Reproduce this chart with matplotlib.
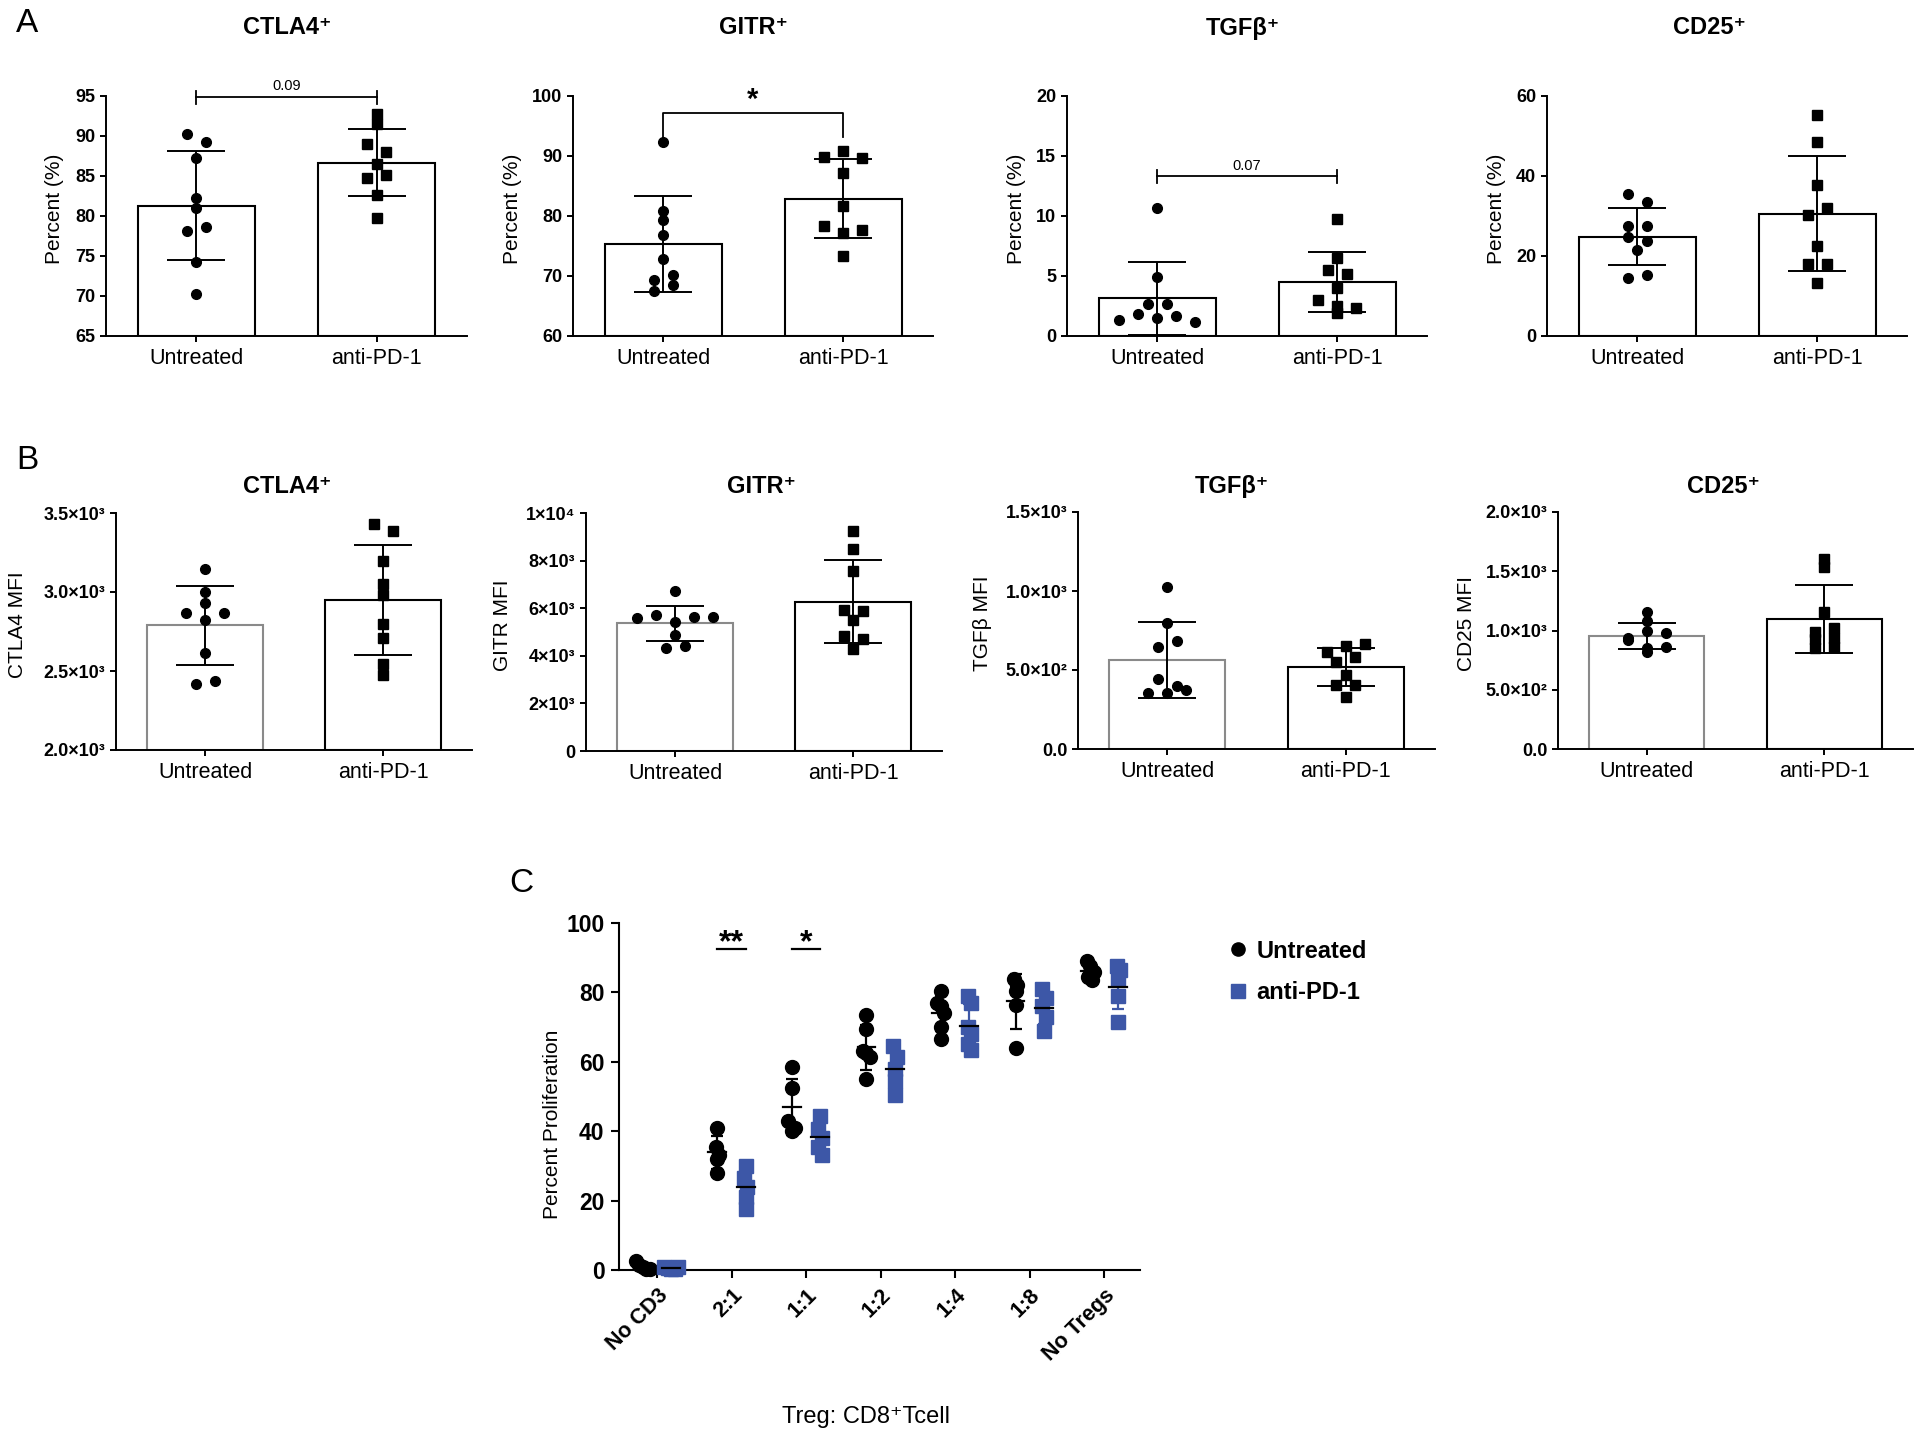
import numpy as np
import matplotlib
matplotlib.use('Agg')
import matplotlib.pyplot as plt
from matplotlib.lines import Line2D

plt.rcParams['font.family'] = ['Liberation Sans', 'DejaVu Sans']

W, H = 1920, 1441
BLUE = '#3D57A7'

groups = ['Untreated', 'anti-PD-1']

# ---- panel A: percent positive Tregs
a_titles = ['CTLA4⁺', 'GITR⁺', 'TGFβ⁺', 'CD25⁺']
a_ctla4_untr = [90.3, 89.3, 87.3, 82.3, 81.0, 78.1, 78.6, 74.3, 70.3]
a_ctla4_anti = [92.8, 91.5, 89.0, 88.0, 86.5, 84.8, 85.1, 82.6, 79.8]
a_gitr_untr = [92.3, 80.9, 79.3, 76.9, 72.9, 69.3, 70.2, 67.5, 68.5]
a_gitr_anti = [89.8, 90.8, 89.6, 87.2, 81.6, 78.4, 77.1, 77.7, 73.4]
a_tgfb_untr = [10.7, 4.9, 2.64, 2.64, 1.33, 1.8, 1.47, 1.67, 1.19]
a_tgfb_anti = [9.72, 6.53, 5.47, 5.14, 4.03, 3.0, 2.5, 2.36, 1.94]
a_cd25_untr = [35.4, 33.5, 27.5, 27.5, 24.8, 23.75, 21.5, 14.6, 15.2]
a_cd25_anti = [55.2, 48.5, 37.7, 30.2, 32.1, 22.5, 18.1, 18.1, 13.2]
a_ylims = [(65, 95), (60, 100), (0, 20), (0, 60)]
a_yticks = [[65, 70, 75, 80, 85, 90, 95], [60, 70, 80, 90, 100],
            [0, 5, 10, 15, 20], [0, 20, 40, 60]]

# ---- panel B: MFI
b_ylabels = ['CTLA4 MFI', 'GITR MFI', 'TGFβ MFI', 'CD25 MFI']
b_ctla4_untr = [3148, 3000, 2931, 2868, 2822, 2868, 2615, 2417, 2438]
b_ctla4_anti = [3432, 3386, 3197, 3053, 2980, 2796, 2710, 2543, 2474]
b_gitr_untr = [6704, 5582, 5722, 5428, 5638, 5638, 4867, 4320, 4418]
b_gitr_anti = [9229, 8485, 7574, 5933, 5891, 5512, 4839, 4698, 4306]
b_tgfb_untr = [1027, 795, 644, 686, 442, 396, 353, 353, 374]
b_tgfb_anti = [612, 654, 665, 553, 585, 469, 406, 402, 332]
b_cd25_untr = [1153, 1080, 940, 996, 982, 920, 822, 850, 858]
b_cd25_anti = [1607, 1532, 1153, 990, 1018, 928, 934, 850, 858]
b_ylims = [(2000, 3500), (0, 10000), (0, 1500), (0, 2000)]
b_yticks = [[2000, 2500, 3000, 3500], [0, 2000, 4000, 6000, 8000, 10000],
            [0, 500, 1000, 1500], [0, 500, 1000, 1500, 2000]]
b_yticklabels = [['2.0×10³', '2.5×10³', '3.0×10³', '3.5×10³'],
                 ['0', '2×10³', '4×10³', '6×10³', '8×10³', '1×10⁴'],
                 ['0.0', '5.0×10²', '1.0×10³', '1.5×10³'],
                 ['0.0', '5.0×10²', '1.0×10³', '1.5×10³', '2.0×10³']]

# ---- panel C: suppression assay
c_cats = ['No CD3', '2:1', '1:1', '1:2', '1:4', '1:8', 'No Tregs']
c_untr = [[2.5, 1.5, 0.8, 0.3, 0.2],
          [41, 35.5, 33, 32, 28],
          [58.5, 52.5, 43, 40, 41],
          [73.5, 69.5, 63, 62.5, 61.5, 55],
          [80.5, 77, 76, 74, 70, 66.5],
          [84, 82, 80.5, 76.5, 64],
          [89, 87.5, 86, 84.5, 83.5]]
c_anti = [[1.0, 0.5, 0.3, 0.2, 0.8],
          [30, 26.5, 24, 21, 17.5],
          [44.5, 40.5, 38, 35.5, 33],
          [64.5, 61.5, 58, 54.5, 50.5],
          [79, 77, 70, 68, 65, 63.5],
          [81, 78.5, 76, 73, 69],
          [87.5, 86.5, 84, 79, 71.5]]


def rect(x0, x1, ytop, ybot):
    return [x0 / W, 1 - ybot / H, (x1 - x0) / W, (ybot - ytop) / H]


def swarm_offsets(vals, px_per_unit, px_per_x, row_px=8.5, step_px=19):
    # simple prism-like spreading: points closer than row_px share a row
    vals = np.asarray(vals, float)
    order = np.argsort(-vals, kind='stable')
    offs = np.zeros(len(vals))
    i = 0
    while i < len(order):
        top = vals[order[i]]
        row = [order[i]]
        j = i + 1
        while j < len(order) and (top - vals[order[j]]) * px_per_unit < row_px:
            row.append(order[j])
            j += 1
        row.sort()
        n = len(row)
        for k, idx in enumerate(row):
            offs[idx] = (k - (n - 1) / 2) * step_px / px_per_x
        i = j
    return offs


def bar_panel(box, untr, anti, ylim, yticks, yticklabels, ylabel, ylab_x, untr_edge='black'):
    x0, x1, yt, yb = box
    ax = fig.add_axes(rect(x0, x1, yt, yb))
    px_y = (yb - yt) / (ylim[1] - ylim[0])
    px_x = (x1 - x0) / 2.0
    for i, (vals, marker, edge) in enumerate([(untr, 'o', untr_edge), (anti, 's', 'black')]):
        m = np.mean(vals)
        sd = np.std(vals, ddof=1)
        ax.bar(i, m - ylim[0], bottom=ylim[0], width=0.65, color='white',
               edgecolor=edge, linewidth=1.5, zorder=1)
        ax.errorbar(i, m, yerr=sd, fmt='none', ecolor='black', elinewidth=1.4,
                    capsize=21, capthick=1.4, zorder=2)
        dx = swarm_offsets(vals, px_y, px_x)
        ax.plot(i + dx, vals, marker, color='black', ms=7, ls='none', zorder=3, clip_on=False)
    ax.set_xlim(-0.5, 1.5)
    ax.set_ylim(*ylim)
    ax.set_xticks([0, 1])
    ax.set_xticklabels(groups, fontsize=15.5)
    ax.set_yticks(yticks)
    if yticklabels is not None:
        ax.set_yticklabels(yticklabels)
    for lab in ax.get_yticklabels():
        lab.set_fontweight('bold')
        lab.set_fontsize(13)
    ax.tick_params(direction='out', length=4.3, width=1.4, pad=3.5)
    ax.tick_params(axis='x', pad=4)
    for s in ['top', 'right']:
        ax.spines[s].set_visible(False)
    for s in ['left', 'bottom']:
        ax.spines[s].set_linewidth(1.4)
    ax.set_ylabel(ylabel, fontsize=15)
    ax.yaxis.set_label_coords((ylab_x - x0) / (x1 - x0), 0.53)
    ax.yaxis.label.set_verticalalignment('center')
    return ax


def bracket(ax, y, cap, text, ty, legs_down=False, star=False):
    if legs_down:
        ax.plot([0, 0, 1, 1], [y - cap, y, y, y - cap], color='black', lw=1.3, clip_on=False)
    else:
        ax.plot([0, 1], [y, y], color='black', lw=1.3, clip_on=False)
        ax.plot([0, 0], [y - cap, y + cap], color='black', lw=1.3, clip_on=False)
        ax.plot([1, 1], [y - cap, y + cap], color='black', lw=1.3, clip_on=False)
    if star:
        ax.text(0.5, ty, text, ha='center', va='center', fontsize=21, fontweight='bold')
    else:
        ax.text(0.5, ty, text, ha='center', va='center', fontsize=10.5)


fig = plt.figure(figsize=(W / 100, H / 100), dpi=100)

a_boxes = [(106, 467, 96, 336), (573, 933, 96, 336), (1067, 1427, 96, 336), (1547, 1907, 96, 336)]
a_ylab_x = [55, 512, 1016, 1496]
a_title_x = [287, 753, 1243, 1710]
a_data = [(a_ctla4_untr, a_ctla4_anti), (a_gitr_untr, a_gitr_anti),
          (a_tgfb_untr, a_tgfb_anti), (a_cd25_untr, a_cd25_anti)]
a_axes = []
for k in range(4):
    ax = bar_panel(a_boxes[k], a_data[k][0], a_data[k][1], a_ylims[k], a_yticks[k], None,
                   'Percent (%)', a_ylab_x[k])
    a_axes.append(ax)
    fig.text(a_title_x[k] / W, 1 - 28 / H, a_titles[k], ha='center', va='center',
             fontsize=17, fontweight='bold')

bracket(a_axes[0], 94.85, 0.8, '0.09', 96.2)
bracket(a_axes[1], 97.2, 4.0, '*', 99.3, legs_down=True, star=True)
bracket(a_axes[2], 13.3, 0.55, '0.07', 14.2)

b_boxes = [(116, 472, 513, 750), (586, 942, 513, 751), (1078, 1435, 512, 749), (1558, 1913, 512, 749)]
b_ylab_x = [18, 503, 982, 1467]
b_title_x = [287, 762, 1232, 1723]
b_data = [(b_ctla4_untr, b_ctla4_anti), (b_gitr_untr, b_gitr_anti),
          (b_tgfb_untr, b_tgfb_anti), (b_cd25_untr, b_cd25_anti)]
for k in range(4):
    bar_panel(b_boxes[k], b_data[k][0], b_data[k][1], b_ylims[k], b_yticks[k], b_yticklabels[k],
              b_ylabels[k], b_ylab_x[k], untr_edge='#8a8a8a')
    fig.text(b_title_x[k] / W, 1 - 487 / H, a_titles[k], ha='center', va='center',
             fontsize=17, fontweight='bold')

# ---- panel C
axc = fig.add_axes(rect(619, 1140, 923, 1270))
xc = np.arange(len(c_cats))
c_px_y = 347 / 100.0
c_px_x = 74.5
for i in range(len(c_cats)):
    for vals, dx, color, marker in [(c_untr[i], -0.19, 'black', 'o'), (c_anti[i], 0.19, BLUE, 's')]:
        x = xc[i] + dx
        m = np.mean(vals)
        sd = np.std(vals, ddof=1)
        jit = swarm_offsets(vals, c_px_y, c_px_x, row_px=11, step_px=3.5)
        axc.plot(x + jit, vals, marker, color=color, ms=10, ls='none',
                 zorder=3, clip_on=False)
        axc.errorbar(x, m, yerr=sd, fmt='none', ecolor=color, elinewidth=1.6,
                     capsize=4.5, capthick=1.6, zorder=4)
        axc.plot([x - 0.12, x + 0.12], [m, m], color='black', lw=1.6, zorder=5)

axc.set_xlim(-0.51, 6.48)
axc.set_ylim(0, 100)
axc.set_yticks([0, 20, 40, 60, 80, 100])
axc.set_xticks(xc)
axc.set_xticklabels(c_cats, rotation=45, ha='right', rotation_mode='anchor',
                    fontsize=15.5, fontweight='bold')
for lab in axc.get_yticklabels():
    lab.set_fontweight('bold')
    lab.set_fontsize(16.5)
axc.tick_params(direction='out', length=5.5, width=1.5, pad=5)
for s in ['top', 'right']:
    axc.spines[s].set_visible(False)
for s in ['left', 'bottom']:
    axc.spines[s].set_linewidth(1.5)
axc.set_ylabel('Percent Proliferation', fontsize=15)
axc.yaxis.set_label_coords((553 - 619) / 521, 0.42)
axc.yaxis.label.set_verticalalignment('center')
axc.set_xlabel('Treg: CD8⁺Tcell', fontsize=17)
axc.xaxis.set_label_coords((866 - 619) / 521, (1270 - 1417) / 347)
axc.xaxis.label.set_verticalalignment('center')

# significance marks
for xpos, txt in [(1, '**'), (2, '*')]:
    axc.plot([xpos - 0.19, xpos + 0.19], [92.5, 92.5], color='black', lw=1.6)
    axc.text(xpos, 94.3, txt, ha='center', va='center', fontsize=23, fontweight='bold')

handles = [Line2D([], [], marker='o', color='black', ls='none', ms=9.5),
           Line2D([], [], marker='s', color=BLUE, ls='none', ms=9.5)]
fig.legend(handles, groups, loc='center left', bbox_to_anchor=(1226 / W, 1 - 972 / H),
           frameon=False, borderpad=0, borderaxespad=0, handlelength=1.0,
           handletextpad=0.3, labelspacing=0.8,
           prop={'weight': 'bold', 'size': 17})

# panel letters
fig.text(27 / W, 1 - 23 / H, 'A', ha='center', va='center', fontsize=24)
fig.text(27 / W, 1 - 460 / H, 'B', ha='center', va='center', fontsize=24)
fig.text(521 / W, 1 - 884 / H, 'C', ha='center', va='center', fontsize=24)

fig.savefig('out.png', dpi=100)
